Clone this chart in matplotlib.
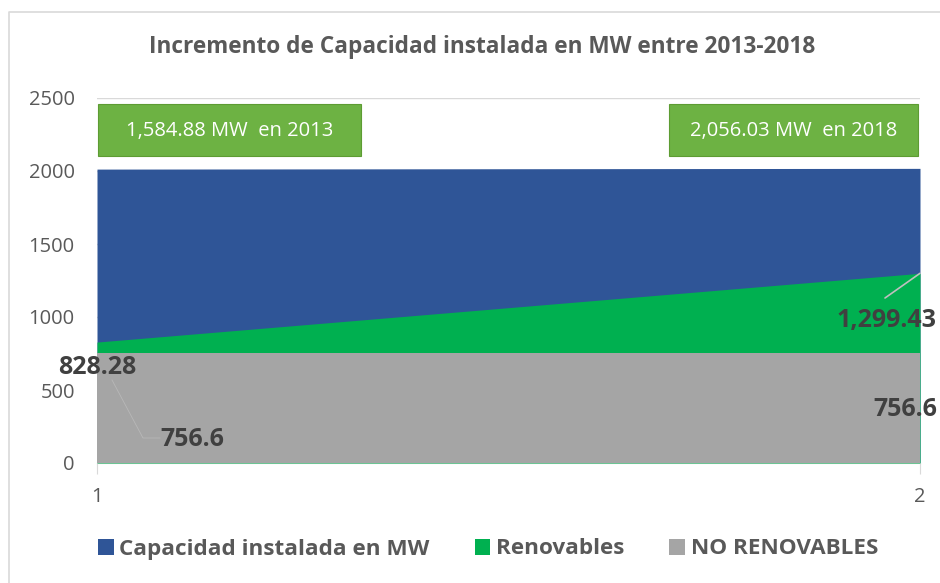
import matplotlib.pyplot as plt
from matplotlib.lines import Line2D
from matplotlib.patches import Patch

# data
x = [1, 2]
capacidad = [2013, 2018]
renovables = [828.28, 1299.43]
no_renovables = [756.6, 756.6]
series_names = ["Capacidad instalada en MW", "Renovables", "NO RENOVABLES"]
colors = ["#2f5597", "#00b050", "#a5a5a5"]
box_texts = ["1,584.88 MW  en 2013", "2,056.03 MW  en 2018"]

plt.rcParams['font.family'] = ['Open Sans', 'DejaVu Sans']

W, H = 940, 583
fig = plt.figure(figsize=(W/100, H/100), dpi=100, facecolor='white')
ax = fig.add_axes([97/W, (H-463)/H, (920-97)/W, (463-98)/H])

ax.fill_between(x, 0, capacidad, color=colors[0], lw=0, zorder=2)
ax.fill_between(x, 0, renovables, color=colors[1], lw=0, zorder=3)
ax.fill_between(x, 0, no_renovables, color=colors[2], lw=0, zorder=4)

ax.set_xlim(1, 2)
ax.set_ylim(0, 2500)
ax.set_yticks(range(0, 2501, 500))
ax.set_xticks(x)
ax.set_xticklabels(["1", "2"])
ax.yaxis.grid(True, color='#d9d9d9', lw=1, zorder=0)
ax.set_axisbelow(True)
for s in ['top', 'right', 'left']:
    ax.spines[s].set_visible(False)
ax.spines['bottom'].set_color('#d9d9d9')
ax.tick_params(axis='y', length=0, labelsize=14.5, labelcolor='#595959', pad=16)
ax.tick_params(axis='x', length=8, color='#d9d9d9', labelsize=14.5, labelcolor='#595959', pad=9)

fig.suptitle("Incremento de Capacidad instalada en MW entre 2013-2018",
             x=482/W, y=1-47/H, fontsize=16.3, fontweight='bold', color='#595959', va='center')

# green value boxes
for (x0, x1), txt in zip([(98, 361), (669, 918)], box_texts):
    fig.patches.append(plt.Rectangle((x0/W, (H-156)/H), (x1-x0)/W, 52/H, transform=fig.transFigure,
                                     facecolor='#6db243', edgecolor='#5d9c33', lw=0.8, zorder=5))
    fig.text((x0+x1)/2/W, (H-131)/H, txt, ha='center', va='center', color='white', fontsize=14.5, zorder=7)

# data labels
lab = dict(fontsize=18, fontweight='bold', color='#404040', zorder=6)
fig.text(97/W, (H-367)/H, f"{renovables[0]:,.2f}", ha='center', va='center', **lab)
fig.text(886/W, (H-320)/H, f"{renovables[1]:,.2f}", ha='center', va='center', **lab)
fig.text(192/W, (H-440)/H, f"{no_renovables[0]:g}", ha='center', va='center', **lab)
fig.text(937/W, (H-410)/H, f"{no_renovables[1]:g}", ha='right', va='center', **lab)
ax.annotate("", xy=(2, renovables[1]), xytext=(885/W, (H-298)/H), textcoords='figure fraction',
            arrowprops=dict(arrowstyle='-', color='#bfbfbf', lw=1.2, shrinkA=0, shrinkB=0),
            annotation_clip=False, zorder=6)
fig.lines.append(Line2D([112/W, 143/W, 160/W], [(H-380)/H, (H-438)/H, (H-438)/H],
                        transform=fig.transFigure, color='#b8b8b8', lw=0.6, zorder=5))

# legend
handles = [Patch(facecolor=c, edgecolor='none') for c in colors]
fig.legend(handles, series_names, loc='center', bbox_to_anchor=(488/W, (H-549)/H), ncol=3,
           frameon=False, handlelength=0.7, handleheight=0.7, handletextpad=0.25,
           columnspacing=2.0, prop=dict(size=16.2, weight='bold'), labelcolor='#595959')

# outer border
fig.lines.append(Line2D([9/W, 9/W, 1], [0, (H-12)/H, (H-12)/H], transform=fig.transFigure,
                        color='#d9d9d9', lw=1.2))

fig.savefig("out.png", dpi=100, facecolor='white')
